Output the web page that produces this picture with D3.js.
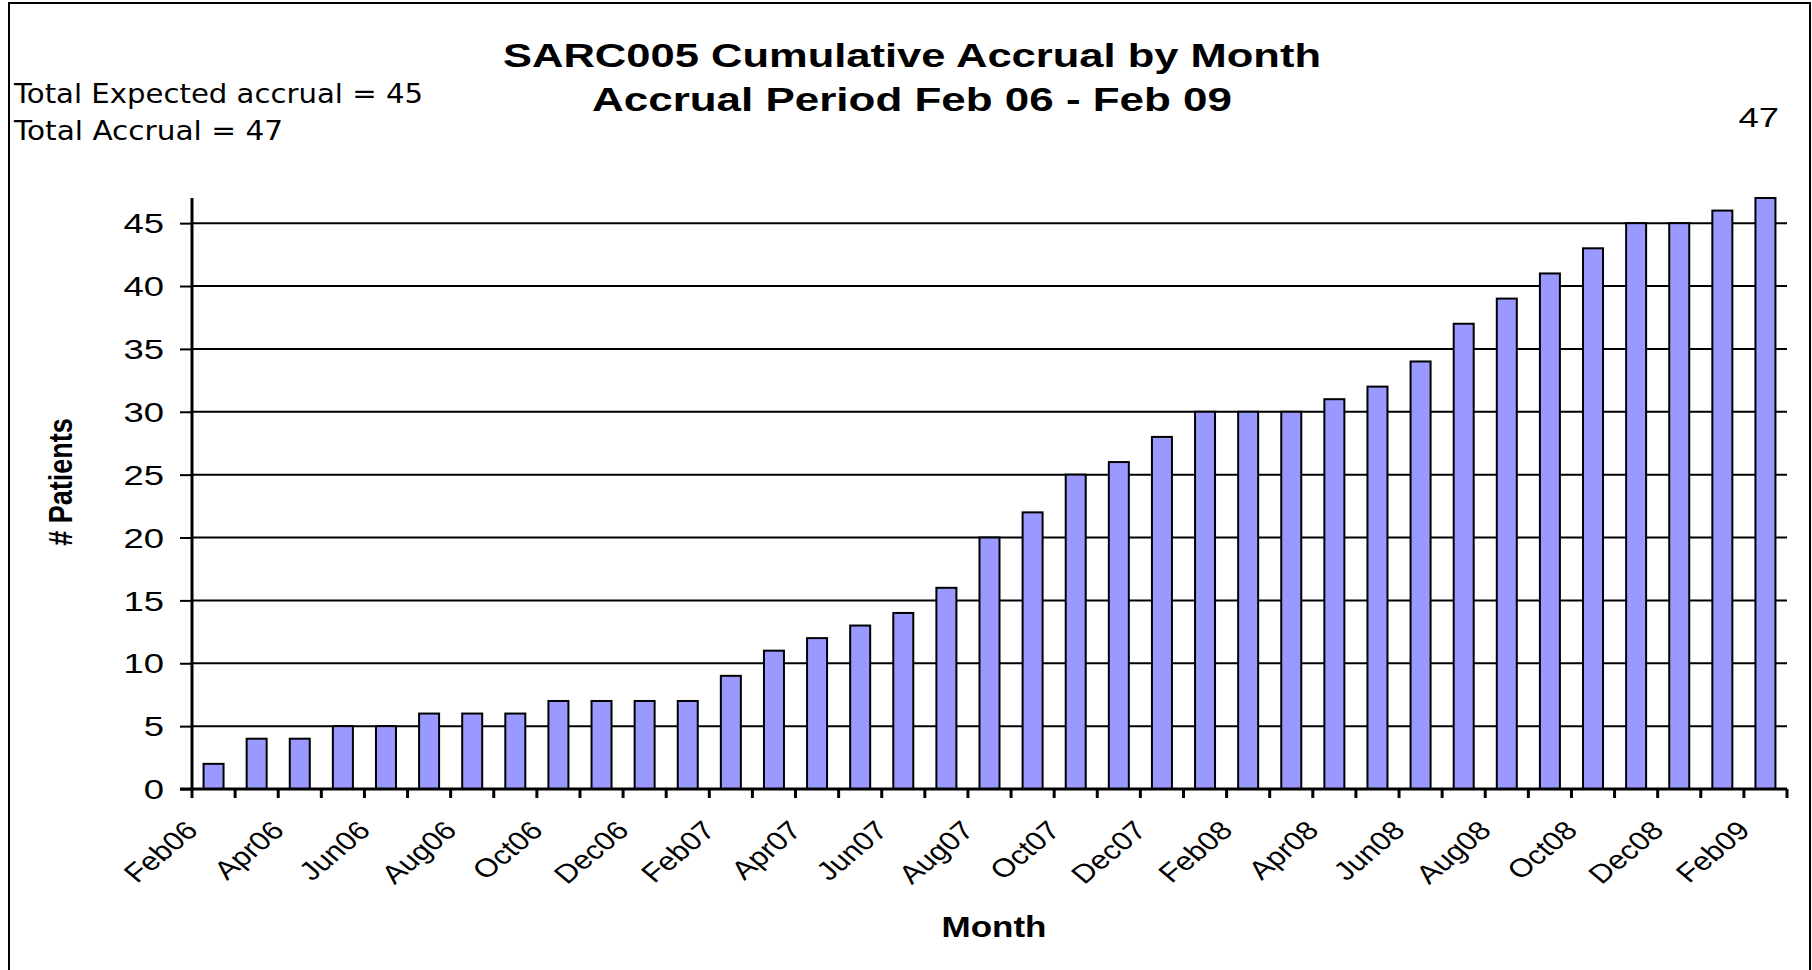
<!DOCTYPE html>
<html>
<head>
<meta charset="utf-8">
<script src="https://cdn.jsdelivr.net/npm/d3@7"></script>
<style>
  html, body { margin: 0; padding: 0; background: #fff; }
  svg { display: block; }
</style>
</head>
<body>
<svg id="chart" width="1812" height="970"></svg>
<script>
const months = ["Feb06","Mar06","Apr06","May06","Jun06","Jul06","Aug06","Sep06","Oct06","Nov06","Dec06","Jan07",
  "Feb07","Mar07","Apr07","May07","Jun07","Jul07","Aug07","Sep07","Oct07","Nov07","Dec07","Jan08",
  "Feb08","Mar08","Apr08","May08","Jun08","Jul08","Aug08","Sep08","Oct08","Nov08","Dec08","Jan09","Feb09"];
const patients = [2,4,4,5,5,6,6,6,7,7,7,7,9,11,12,13,14,16,20,22,25,26,28,30,30,30,31,32,34,37,39,41,43,45,45,46,47];
const tickLabels = ["Feb06","Apr06","Jun06","Aug06","Oct06","Dec06","Feb07","Apr07","Jun07","Aug07","Oct07","Dec07",
  "Feb08","Apr08","Jun08","Aug08","Oct08","Dec08","Feb09"];
const yTicks = [0,5,10,15,20,25,30,35,40,45];
const yMax = 47;
const titleLines = ["SARC005 Cumulative Accrual by Month", "Accrual Period Feb 06 - Feb 09"];
const notes = ["Total Expected accrual = 45", "Total Accrual = 47"];
const lastLabel = "47";

const ARIAL = "'Liberation Sans', Arial, sans-serif";
const SX = 1.35; // horizontal stretch of the text glyphs
const svg = d3.select("#chart");
const plot = { left: 192, right: 1787, top: 198, bottom: 789 };

// chart frame
svg.append("rect").attr("x", 9).attr("y", 3).attr("width", 1801).attr("height", 1000)
  .attr("fill", "none").attr("stroke", "#000").attr("stroke-width", 2);

const pi = 0.536;
const x = d3.scaleBand().domain(months).range([plot.left, plot.right]).paddingInner(pi).paddingOuter(pi / 2);
const y = d3.scaleLinear().domain([0, yMax]).range([plot.bottom, plot.top]);
const step = x.step();

// gridlines
svg.append("g").selectAll("line").data(yTicks.filter(d => d > 0)).join("line")
  .attr("x1", plot.left).attr("x2", plot.right)
  .attr("y1", d => y(d)).attr("y2", d => y(d))
  .attr("stroke", "#000").attr("stroke-width", 2);

// bars
svg.append("g").selectAll("rect").data(months).join("rect")
  .attr("x", d => x(d)).attr("width", x.bandwidth())
  .attr("y", (d, i) => y(patients[i])).attr("height", (d, i) => y(0) - y(patients[i]))
  .attr("fill", "#9999FF").attr("stroke", "#000").attr("stroke-width", 2);

// y axis
const yAxis = svg.append("g").attr("transform", `translate(${plot.left},0)`)
  .call(d3.axisLeft(y).tickValues(yTicks).tickSize(12).tickPadding(17).tickFormat(d3.format("d")));
yAxis.select(".domain").attr("d", `M0,${y(yMax)}V${y(0)}`).attr("stroke", "#000").attr("stroke-width", 3);
yAxis.selectAll(".tick line").attr("stroke", "#000").attr("stroke-width", 2);
yAxis.selectAll(".tick text")
  .attr("x", null).attr("transform", `translate(-28,0) scale(${SX},1)`)
  .attr("text-anchor", "end").attr("dy", "0.36em")
  .style("font-size", "27px").style("font-family", ARIAL).attr("fill", "#000");

// x axis line and boundary ticks
const bounds = months.map(m => x(m) - step * pi / 2).concat([plot.right]);
svg.append("line").attr("x1", plot.left - 12).attr("x2", plot.right)
  .attr("y1", y(0)).attr("y2", y(0)).attr("stroke", "#000").attr("stroke-width", 3);
svg.append("g").selectAll("line").data(bounds).join("line")
  .attr("x1", d => d).attr("x2", d => d).attr("y1", y(0)).attr("y2", y(0) + 9)
  .attr("stroke", "#000").attr("stroke-width", 3);

// x tick labels
svg.append("g").selectAll("text").data(tickLabels).join("text")
  .attr("transform", d => `translate(${x(d) + x.bandwidth() / 2 - 14},${y(0) + 43}) scale(1.2,1) rotate(-45)`)
  .attr("text-anchor", "end")
  .style("font-family", ARIAL).style("font-size", "26px").text(d => d);

// titles
svg.append("g").selectAll("text").data(titleLines).join("text")
  .attr("x", 912).attr("y", (d, i) => 67 + i * 44)
  .attr("text-anchor", "middle")
  .style("font-family", ARIAL).style("font-weight", "bold").style("font-size", "33px")
  .attr("textLength", (d, i) => [818, 640][i]).attr("lengthAdjust", "spacingAndGlyphs")
  .text(d => d);

// notes
svg.append("g").selectAll("text").data(notes).join("text")
  .attr("x", 14).attr("y", (d, i) => 103 + i * 37)
  .style("font-family", "'DejaVu Sans', sans-serif").style("font-size", "27px")
  .attr("textLength", (d, i) => [409, 269][i]).attr("lengthAdjust", "spacingAndGlyphs")
  .text(d => d);

// value label of last bar
svg.append("text").attr("transform", `translate(1779,127) scale(${SX},1)`).attr("text-anchor", "end")
  .style("font-family", ARIAL).style("font-size", "27px").text(lastLabel);

// axis titles
svg.append("text").attr("x", 994).attr("y", 937).attr("text-anchor", "middle")
  .style("font-family", ARIAL).style("font-weight", "bold").style("font-size", "30px")
  .attr("textLength", 105).attr("lengthAdjust", "spacingAndGlyphs").text("Month");
svg.append("text").attr("transform", `translate(72,482) scale(1.25,1) rotate(-90)`).attr("text-anchor", "middle")
  .style("font-family", ARIAL).style("font-weight", "bold").style("font-size", "27px").text("# Patients");
</script>
</body>
</html>
